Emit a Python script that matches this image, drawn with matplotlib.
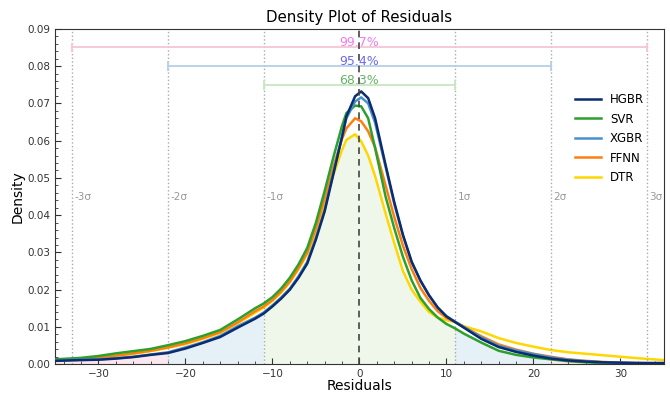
import numpy as np
import matplotlib
matplotlib.use("Agg")
import matplotlib.pyplot as plt
from matplotlib.ticker import MultipleLocator

# residual grid where the density curves were read
residuals = [-35, -32, -30, -28, -26, -24, -22, -20, -18, -16, -14, -12, -11, -10, -9, -8,
             -7, -6, -5, -4, -3, -2, -1.5, -0.5, 0.2, 1, 1.8, 3, 4, 5, 6, 7, 8, 9, 10,
             11, 12, 14, 16, 18, 20, 22, 24, 26, 28, 30, 32, 35]

hgbr = [0.0009, 0.0011, 0.0012, 0.0015, 0.0019, 0.0025, 0.0030, 0.0042, 0.0057, 0.0073,
        0.0098, 0.0122, 0.0136, 0.0155, 0.0176, 0.0200, 0.0232, 0.0270, 0.0335, 0.0410,
        0.0510, 0.0610, 0.0665, 0.0719, 0.0732, 0.0714, 0.0660, 0.0535, 0.0435, 0.0347,
        0.0275, 0.0225, 0.0185, 0.0152, 0.0128, 0.0113, 0.0098, 0.0068, 0.0046, 0.0033,
        0.0023, 0.0015, 0.0010, 0.0007, 0.0005, 0.0004, 0.0003, 0.0003]
svr = [0.0013, 0.0017, 0.0022, 0.0029, 0.0035, 0.0041, 0.0051, 0.0062, 0.0076, 0.0092,
       0.0120, 0.0150, 0.0163, 0.0180, 0.0203, 0.0232, 0.0268, 0.0312, 0.0380, 0.0465,
       0.0555, 0.0640, 0.0674, 0.0694, 0.0692, 0.0660, 0.0580, 0.0450, 0.0365, 0.0288,
       0.0225, 0.0178, 0.0148, 0.0125, 0.0108, 0.0096, 0.0082, 0.0058, 0.0036, 0.0025,
       0.0018, 0.0013, 0.0008, 0.0005, 0.0003, 0.0002, 0.0002, 0.0001]
xgbr = [0.0010, 0.0012, 0.0013, 0.0016, 0.0020, 0.0026, 0.0032, 0.0045, 0.0059, 0.0076,
        0.0102, 0.0125, 0.0139, 0.0158, 0.0179, 0.0203, 0.0236, 0.0275, 0.0340, 0.0415,
        0.0515, 0.0612, 0.0660, 0.0705, 0.0716, 0.0700, 0.0648, 0.0530, 0.0430, 0.0345,
        0.0274, 0.0224, 0.0184, 0.0152, 0.0129, 0.0114, 0.0100, 0.0072, 0.0049, 0.0037,
        0.0027, 0.0018, 0.0012, 0.0008, 0.0005, 0.0004, 0.0003, 0.0003]
ffnn = [0.0011, 0.0014, 0.0018, 0.0023, 0.0029, 0.0036, 0.0045, 0.0056, 0.0070, 0.0086,
        0.0112, 0.0142, 0.0155, 0.0172, 0.0195, 0.0222, 0.0258, 0.0300, 0.0365, 0.0445,
        0.0530, 0.0605, 0.0633, 0.0660, 0.0652, 0.0625, 0.0582, 0.0480, 0.0395, 0.0318,
        0.0255, 0.0205, 0.0170, 0.0142, 0.0124, 0.0113, 0.0100, 0.0075, 0.0053, 0.0039,
        0.0028, 0.0020, 0.0013, 0.0009, 0.0006, 0.0004, 0.0003, 0.0002]
dtr = [0.0011, 0.0014, 0.0018, 0.0022, 0.0028, 0.0035, 0.0044, 0.0054, 0.0068, 0.0084,
       0.0110, 0.0138, 0.0152, 0.0170, 0.0192, 0.0220, 0.0255, 0.0296, 0.0355, 0.0430,
       0.0508, 0.0575, 0.0602, 0.0617, 0.0598, 0.0560, 0.0505, 0.0405, 0.0325, 0.0250,
       0.0200, 0.0168, 0.0140, 0.0125, 0.0118, 0.0113, 0.0102, 0.0088, 0.0070, 0.0057,
       0.0047, 0.0038, 0.0032, 0.0028, 0.0024, 0.0020, 0.0016, 0.0011]

models = ["HGBR", "SVR", "XGBR", "FFNN", "DTR"]
densities = [hgbr, svr, xgbr, ffnn, dtr]
colors = ["#0b2c6e", "#2ca02c", "#4a90cc", "#ff7f0e", "#ffd700"]
zorders = [6, 4, 5, 3, 2]

sigma = 11.0
mean = 0.0
coverage = ["68.3%", "95.4%", "99.7%"]
bracket_y = [0.075, 0.080, 0.085]

fig, ax = plt.subplots(figsize=(6.7, 3.95), dpi=100)
fig.subplots_adjust(left=0.082, right=0.991, top=0.927, bottom=0.078)

# shaded sigma regions under the lowest curve
low = np.min(np.array(densities), axis=0)
bounds = [mean + k * sigma for k in (-3, -2, -1, 1, 2, 3)]
xs = np.unique(np.concatenate([residuals, bounds]))
ys = np.interp(xs, residuals, low)
ax.fill_between(xs, ys, where=np.abs(xs - mean) <= sigma + 1e-9, color="#eff6ea", lw=0)
ax.fill_between(xs, ys, where=(np.abs(xs - mean) >= sigma - 1e-9) & (np.abs(xs - mean) <= 2 * sigma + 1e-9),
                color="#e6f0f7", lw=0)
ax.fill_between(xs, ys, where=np.abs(xs - mean) >= 2 * sigma - 1e-9, color="#fbe7ee", lw=0)

for name, d, c, z in zip(models, densities, colors, zorders):
    ax.plot(residuals, d, color=c, lw=1.8, label=name, zorder=z)

ax.axvline(mean, color="#444444", ls="--", lw=1.2, dashes=(4, 3), zorder=7)
for k in (-3, -2, -1, 1, 2, 3):
    xv = mean + k * sigma
    ax.axvline(xv, color="#aaaaaa", ls=":", lw=1)
    ax.text(xv + 0.3, 0.045, f"{k}σ", color="#999999", fontsize=7.5, va="center", ha="left")

bracket_colors = ["#c8e6c0", "#b3d0e6", "#f6c6d4"]
text_colors = ["#66b266", "#6b6bf0", "#f07af0"]
for k, (lbl, yb, bc, tc) in enumerate(zip(coverage, bracket_y, bracket_colors, text_colors), start=1):
    ax.hlines(yb, mean - k * sigma, mean + k * sigma, color=bc, lw=1.3)
    ax.vlines([mean - k * sigma, mean + k * sigma], yb - 0.0013, yb + 0.0013, color=bc, lw=1.3)
    ax.text(mean, yb - 0.0005, lbl, color=tc, fontsize=9, ha="center", va="bottom", zorder=8)

ax.set_xlim(-35, 35)
ax.set_ylim(0, 0.09)
ax.xaxis.set_major_locator(MultipleLocator(10))
ax.xaxis.set_minor_locator(MultipleLocator(2))
ax.yaxis.set_major_locator(MultipleLocator(0.01))
ax.yaxis.set_minor_locator(MultipleLocator(0.002))
ax.tick_params(which="both", direction="in", labelsize=7.5, colors="#333333")
ax.tick_params(which="major", length=4)
ax.tick_params(which="minor", length=2)
for s in ax.spines.values():
    s.set_color("#333333")

ax.set_title("Density Plot of Residuals", fontsize=10.8, pad=5)
ax.set_xlabel("Residuals", fontsize=10, labelpad=0)
ax.set_ylabel("Density", fontsize=10, labelpad=2)
ax.legend(loc="upper right", bbox_to_anchor=(0.985, 0.84), frameon=False, fontsize=8.5,
          handlelength=2.2, labelspacing=0.55)

plt.savefig("out.png")
